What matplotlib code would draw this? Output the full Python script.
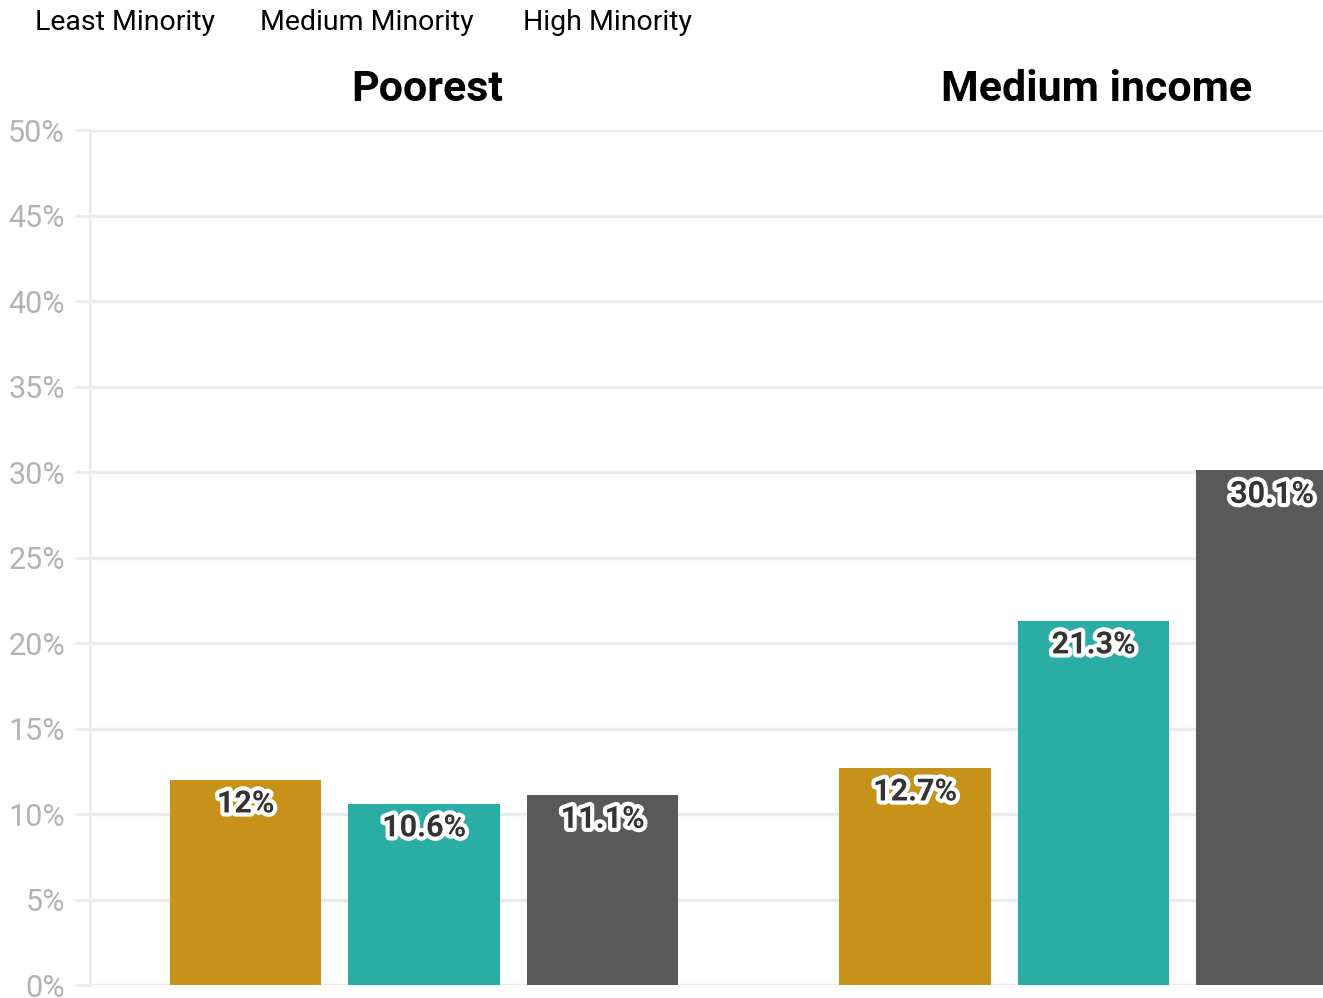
import matplotlib.pyplot as plt
import matplotlib.patheffects as pe
import numpy as np

plt.rcParams['font.family'] = ['Roboto', 'DejaVu Sans']

# ---- data ----
groups = ["Poorest", "Medium income"]
series = ["Least Minority", "Medium Minority", "High Minority"]
least_minority = [12.0, 12.7]
medium_minority = [10.6, 21.3]
high_minority = [11.1, 30.1]
labels_least = ["12%", "12.7%"]
labels_medium = ["10.6%", "21.3%"]
labels_high = ["11.1%", "30.1%"]
yticks = [0, 5, 10, 15, 20, 25, 30, 35, 40, 45, 50]

COLORS = ["#C7921A", "#2AADA5", "#595959"]
GRID = "#ebebeb"
TICK_TXT = "#b3b3b3"

group_x = np.array([0.0, 3.75])
offsets = [-1.0, 0.0, 1.0]
width = 0.85

fig = plt.figure(figsize=(13.23, 9.98), dpi=100)
ax = fig.add_axes([0.068, 0.013, 0.932, 0.8567])

values = [least_minority, medium_minority, high_minority]
texts = [labels_least, labels_medium, labels_high]
for i, (vals, lbls) in enumerate(zip(values, texts)):
    xs = group_x + offsets[i]
    ax.bar(xs, vals, width=width, color=COLORS[i], zorder=3)
    for x, v, t in zip(xs, vals, lbls):
        ax.annotate(t, (x, v), xytext=(0, -17), textcoords="offset points",
                    ha="center", va="center", fontsize=22, fontweight="bold",
                    color="#333333", zorder=5,
                    path_effects=[pe.withStroke(linewidth=6, foreground="white")])

ax.set_ylim(0, 50)
ax.set_xlim(-1.871, 5.036)
ax.set_yticks(yticks)
ax.set_yticklabels([f"{t}%" for t in yticks])
ax.set_xticks([])
ax.tick_params(axis="y", length=11, width=2, color=GRID, labelcolor=TICK_TXT,
               labelsize=22, pad=7)
ax.grid(axis="y", color=GRID, linewidth=2.5, zorder=0)
for s in ["top", "right", "bottom"]:
    ax.spines[s].set_visible(False)
ax.spines["left"].set_color(GRID)
ax.spines["left"].set_linewidth(2)

# group titles
for gx, g in zip(group_x, groups):
    ax.text(gx + 0.02, 1.047, g, transform=ax.get_xaxis_transform(), ha="center",
            va="center", fontsize=31, fontweight="bold", color="black")

# legend text along the top
for xpix, name in zip([35, 260, 523], series):
    fig.text(xpix / 1323, 1 - 23 / 998, name, ha="left", va="center",
             fontsize=20.5, color="black")

fig.savefig("out.png", dpi=100)
